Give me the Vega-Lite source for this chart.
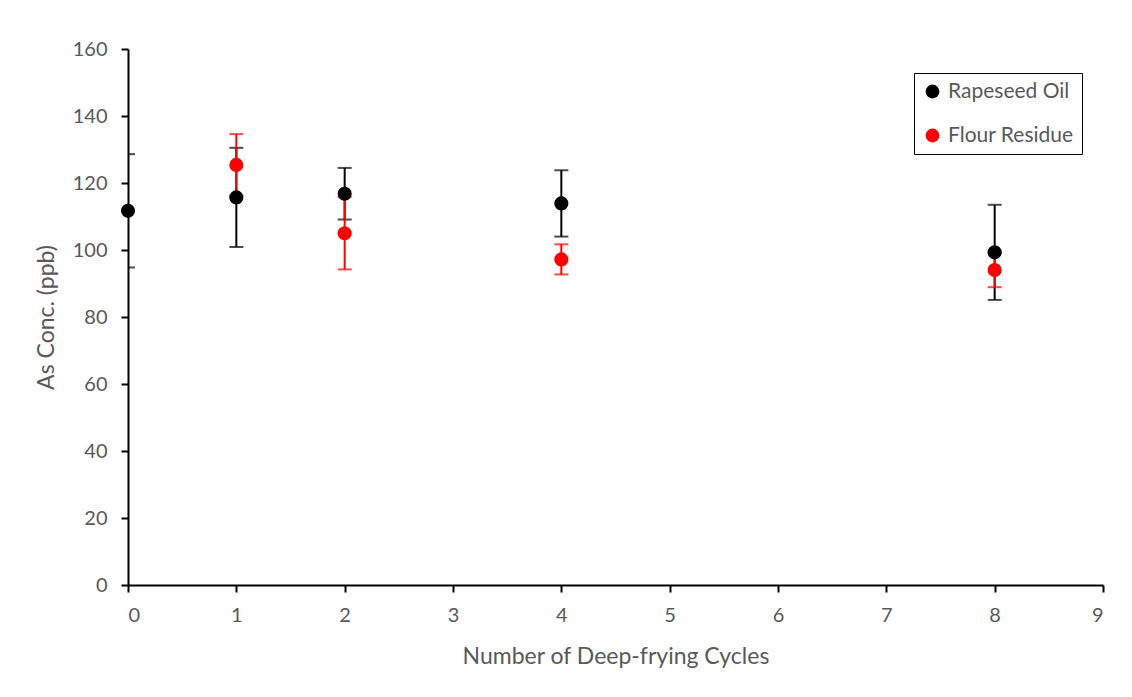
{
  "$schema": "https://vega.github.io/schema/vega-lite/v6.json",
  "width": 975,
  "height": 536,
  "autosize": {"type": "none"},
  "padding": {"left": 128, "top": 49, "right": 29, "bottom": 112},
  "background": "white",
  "config": {
    "view": {"stroke": null},
    "font": "Lato",
    "axis": {
      "domainColor": "black",
      "domainWidth": 2,
      "tickColor": "black",
      "tickWidth": 2,
      "tickSize": 7,
      "labelColor": "#595959",
      "labelFont": "Lato",
      "labelFontSize": 20,
      "titleColor": "#595959",
      "titleFont": "Lato",
      "titleFontSize": 23,
      "titleFontWeight": "normal",
      "grid": false
    }
  },
  "data": {
    "values": [
      {"series": "Rapeseed Oil", "x": 0, "y": 111.7, "lo": 94.8, "hi": 128.6},
      {"series": "Rapeseed Oil", "x": 1, "y": 115.7, "lo": 100.9, "hi": 130.5},
      {"series": "Rapeseed Oil", "x": 2, "y": 116.8, "lo": 109.1, "hi": 124.5},
      {"series": "Rapeseed Oil", "x": 4, "y": 113.9, "lo": 104.0, "hi": 123.8},
      {"series": "Rapeseed Oil", "x": 8, "y": 99.3, "lo": 85.1, "hi": 113.5},
      {"series": "Flour Residue", "x": 1, "y": 125.4, "lo": 116.2, "hi": 134.6},
      {"series": "Flour Residue", "x": 2, "y": 105.0, "lo": 94.2, "hi": 115.8},
      {"series": "Flour Residue", "x": 4, "y": 97.2, "lo": 92.7, "hi": 101.7},
      {"series": "Flour Residue", "x": 8, "y": 94.0, "lo": 88.9, "hi": 99.1}
    ]
  },
  "encoding": {
    "x": {
      "field": "x", "type": "quantitative",
      "scale": {"domain": [0, 9], "nice": false, "zero": false},
      "axis": {"values": [0,1,2,3,4,5,6,7,8,9], "title": "Number of Deep-frying Cycles", "labelPadding": 13, "titlePadding": 20}
    }
  },
  "layer": [
    {
      "transform": [{"filter": "datum.series === 'Rapeseed Oil'"}],
      "mark": {"type": "rule", "color": "black", "strokeWidth": 2, "clip": true},
      "encoding": {
        "y": {"field": "lo", "type": "quantitative", "scale": {"domain": [0, 160], "nice": false},
              "axis": {"values": [0,20,40,60,80,100,120,140,160], "title": "As Conc. (ppb)", "labelPadding": 14, "titlePadding": 14}},
        "y2": {"field": "hi"}
      }
    },
    {
      "transform": [{"filter": "datum.series === 'Rapeseed Oil'"}],
      "mark": {"type": "tick", "color": "black", "thickness": 2, "size": 14, "orient": "horizontal", "clip": true},
      "encoding": {"y": {"field": "lo", "type": "quantitative"}}
    },
    {
      "transform": [{"filter": "datum.series === 'Rapeseed Oil'"}],
      "mark": {"type": "tick", "color": "black", "thickness": 2, "size": 14, "orient": "horizontal", "clip": true},
      "encoding": {"y": {"field": "hi", "type": "quantitative"}}
    },
    {
      "transform": [{"filter": "datum.series === 'Flour Residue'"}],
      "mark": {"type": "rule", "color": "#FF0000", "strokeWidth": 2, "clip": true},
      "encoding": {
        "y": {"field": "lo", "type": "quantitative"},
        "y2": {"field": "hi"}
      }
    },
    {
      "transform": [{"filter": "datum.series === 'Flour Residue'"}],
      "mark": {"type": "tick", "color": "#FF0000", "thickness": 2, "size": 14, "orient": "horizontal", "clip": true},
      "encoding": {"y": {"field": "lo", "type": "quantitative"}}
    },
    {
      "transform": [{"filter": "datum.series === 'Flour Residue'"}],
      "mark": {"type": "tick", "color": "#FF0000", "thickness": 2, "size": 14, "orient": "horizontal", "clip": true},
      "encoding": {"y": {"field": "hi", "type": "quantitative"}}
    },
    {
      "mark": {"type": "point", "shape": "circle", "filled": true, "opacity": 1, "size": 200},
      "encoding": {
        "y": {"field": "y", "type": "quantitative"},
        "color": {
          "field": "series", "type": "nominal",
          "scale": {"domain": ["Rapeseed Oil", "Flour Residue"], "range": ["#000000", "#FF0000"]},
          "legend": {
            "title": null,
            "orient": "none",
            "legendX": 786,
            "legendY": 24,
            "strokeColor": "black",
            "fillColor": "white",
            "padding": 8,
            "symbolType": "circle",
            "symbolSize": 190,
            "symbolStrokeWidth": 0,
            "labelFont": "Lato",
            "labelFontSize": 21,
            "labelColor": "#595959",
            "labelOffset": 5,
            "rowPadding": 22,
            "encode": {"legend": {"update": {"strokeWidth": {"value": 2}}}}
          }
        }
      }
    }
  ]
}
